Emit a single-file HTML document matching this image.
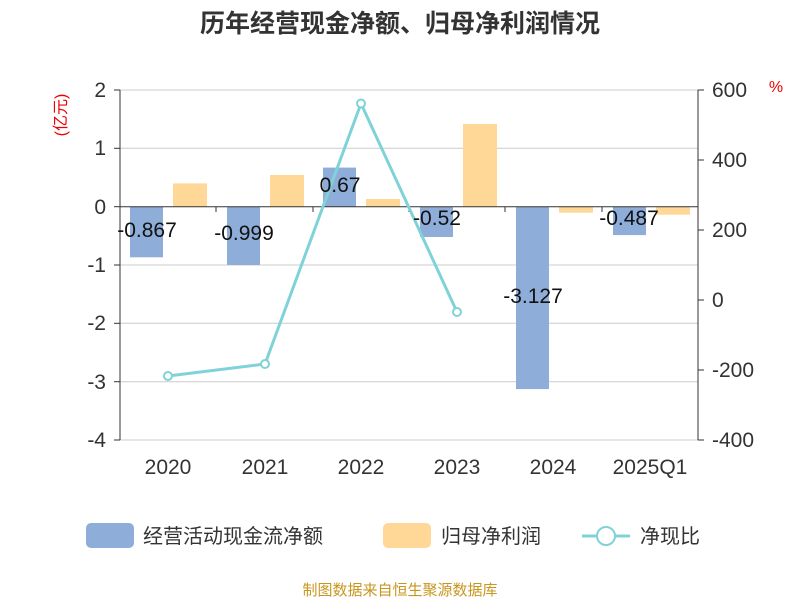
<!DOCTYPE html>
<html><head><meta charset="utf-8"><style>
body{margin:0;background:#fff;}
svg text{font-family:"Liberation Sans","Noto Sans CJK SC",sans-serif;}
</style></head><body>
<svg width="800" height="600" viewBox="0 0 800 600" xmlns="http://www.w3.org/2000/svg">
<text x="400" y="32" text-anchor="middle" font-size="25" font-weight="bold" fill="#333">历年经营现金净额、归母净利润情况</text>
<g stroke="#ccc" stroke-width="1">
<line x1="120" y1="90" x2="698" y2="90"/><line x1="120" y1="148.3" x2="698" y2="148.3"/>
<line x1="120" y1="265" x2="698" y2="265"/><line x1="120" y1="323.3" x2="698" y2="323.3"/>
<line x1="120" y1="381.7" x2="698" y2="381.7"/><line x1="120" y1="440" x2="698" y2="440"/>
</g>
<g fill="#8eadd9">
<rect x="130" y="206.7" width="33" height="50.6"/>
<rect x="227" y="206.7" width="33" height="58.3"/>
<rect x="323" y="167.6" width="33" height="39.1"/>
<rect x="420" y="206.7" width="33" height="30.3"/>
<rect x="516" y="206.7" width="33" height="182.4"/>
<rect x="613" y="206.7" width="33" height="28.4"/>
</g>
<g fill="#ffd797">
<rect x="173" y="183.4" width="34" height="23.3"/>
<rect x="270" y="175" width="34" height="31.7"/>
<rect x="366" y="199" width="34" height="7.7"/>
<rect x="463" y="124" width="34" height="82.7"/>
<rect x="559" y="206.7" width="34" height="6"/>
<rect x="656" y="206.7" width="34" height="8"/>
</g>
<line x1="120" y1="206.7" x2="698" y2="206.7" stroke="#333" stroke-width="1"/>
<g stroke="#333"><line x1="120" y1="206.7" x2="120" y2="212"/><line x1="216" y1="206.7" x2="216" y2="212"/><line x1="313" y1="206.7" x2="313" y2="212"/><line x1="409" y1="206.7" x2="409" y2="212"/><line x1="505" y1="206.7" x2="505" y2="212"/><line x1="602" y1="206.7" x2="602" y2="212"/><line x1="698" y1="206.7" x2="698" y2="212"/></g>
<line x1="120" y1="90" x2="120" y2="440" stroke="#333"/>
<line x1="698" y1="90" x2="698" y2="440" stroke="#333"/>
<g stroke="#333"><line x1="114" y1="90" x2="120" y2="90"/><line x1="114" y1="148.3" x2="120" y2="148.3"/><line x1="114" y1="206.7" x2="120" y2="206.7"/><line x1="114" y1="265" x2="120" y2="265"/><line x1="114" y1="323.3" x2="120" y2="323.3"/><line x1="114" y1="381.7" x2="120" y2="381.7"/><line x1="114" y1="440" x2="120" y2="440"/>
<line x1="698" y1="90" x2="704" y2="90"/><line x1="698" y1="160" x2="704" y2="160"/><line x1="698" y1="230" x2="704" y2="230"/><line x1="698" y1="300" x2="704" y2="300"/><line x1="698" y1="370" x2="704" y2="370"/><line x1="698" y1="440" x2="704" y2="440"/></g>
<g font-size="21" fill="#333" text-anchor="end">
<text x="106" y="97">2</text><text x="106" y="155">1</text><text x="106" y="214">0</text><text x="106" y="272">-1</text><text x="106" y="330">-2</text><text x="106" y="389">-3</text><text x="106" y="447">-4</text>
</g>
<g font-size="21" fill="#333" text-anchor="start">
<text x="712" y="97">600</text><text x="712" y="167">400</text><text x="712" y="237">200</text><text x="712" y="307">0</text><text x="712" y="377">-200</text><text x="712" y="447">-400</text>
</g>
<text x="66" y="115" font-size="16" fill="#e00" text-anchor="middle" transform="rotate(-90 66 115)">(亿元)</text>
<text x="776" y="92" font-size="16" fill="#e00" text-anchor="middle">%</text>
<g font-size="21" fill="#333" text-anchor="middle">
<text x="168" y="474">2020</text><text x="265" y="474">2021</text><text x="361" y="474">2022</text><text x="457" y="474">2023</text><text x="553" y="474">2024</text><text x="650" y="474">2025Q1</text>
</g>
<polyline points="168,376 265,364 361,103.5 457,312" fill="none" stroke="#7fd3d8" stroke-width="3"/>
<g fill="#fff" stroke="#7fd3d8" stroke-width="2"><circle cx="168" cy="376" r="4"/><circle cx="265" cy="364" r="4"/><circle cx="361" cy="103.5" r="4"/><circle cx="457" cy="312" r="4"/></g>
<g font-size="21" fill="#111" text-anchor="middle">
<text x="147" y="237">-0.867</text><text x="244" y="240">-0.999</text><text x="340" y="192">0.67</text><text x="437" y="225">-0.52</text><text x="533" y="303">-3.127</text><text x="629" y="225">-0.487</text>
</g>
<rect x="86" y="523" width="48" height="25" rx="5" fill="#8eadd9"/>
<text x="143" y="543" font-size="20" fill="#333">经营活动现金流净额</text>
<rect x="383" y="523" width="48" height="25" rx="5" fill="#ffd797"/>
<text x="441" y="543" font-size="20" fill="#333">归母净利润</text>
<line x1="582" y1="536" x2="630" y2="536" stroke="#7fd3d8" stroke-width="3"/>
<circle cx="606" cy="536" r="9" fill="#fff" stroke="#7fd3d8" stroke-width="2"/>
<text x="640" y="543" font-size="20" fill="#333">净现比</text>
<text x="400" y="595" font-size="15" fill="#c8961e" text-anchor="middle">制图数据来自恒生聚源数据库</text>
</svg>
</body></html>
